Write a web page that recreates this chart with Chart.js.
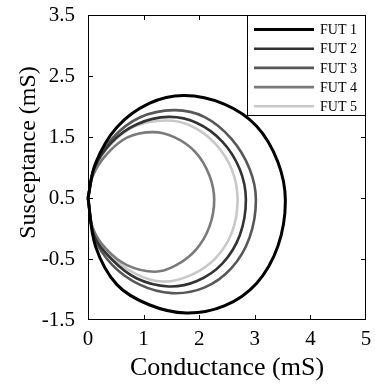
<!DOCTYPE html>
<html>
<head>
<meta charset="utf-8">
<script src="https://cdn.jsdelivr.net/npm/chart.js"></script>
<style>
  body { margin: 0; background: #fff; }
</style>
</head>
<body>
<canvas id="admittance" width="375" height="384"></canvas>
<script>
// conductance (mS), susceptance (mS), going round each loop
var fut1 = [[0, 0.5], [0.135, 1.07], [0.52, 1.66], [1.10, 2.05], [1.73, 2.18], [2.45, 2.04], [3.03, 1.68],
  [3.415, 1.09], [3.55, 0.45], [3.415, -0.29], [3.03, -0.90], [2.45, -1.27], [1.77, -1.385],
  [1.10, -1.25], [0.52, -0.92], [0.135, -0.29], [0, 0.5]];

var fut2 = [[0, 0.5], [0.11, 0.98], [0.42, 1.41], [0.88, 1.71], [1.45, 1.83], [1.96, 1.73], [2.42, 1.42],
  [2.73, 0.97], [2.84, 0.47], [2.73, -0.11], [2.42, -0.57], [1.96, -0.86], [1.45, -0.95],
  [0.88, -0.82], [0.42, -0.50], [0.11, -0.12], [0, 0.5]];

var fut3 = [[0, 0.5], [0.115, 1.00], [0.44, 1.48], [0.93, 1.82], [1.55, 1.94], [2.09, 1.83], [2.58, 1.47],
  [2.905, 0.98], [3.02, 0.47], [2.905, -0.15], [2.58, -0.65], [2.09, -0.97], [1.51, -1.06],
  [0.93, -0.92], [0.44, -0.60], [0.115, -0.15], [0, 0.5]];

var fut4 = [[0, 0.5], [0.086, 0.86], [0.33, 1.21], [0.70, 1.49], [1.17, 1.58], [1.57, 1.49], [1.94, 1.245],
  [2.184, 0.87], [2.27, 0.47], [2.184, 0.03], [1.94, -0.35], [1.57, -0.61], [1.20, -0.71],
  [0.70, -0.60], [0.33, -0.34], [0.086, 0.01], [0, 0.5]];

var fut5 = [[0, 0.5], [0.10, 0.96], [0.39, 1.36], [0.83, 1.67], [1.40, 1.77], [1.86, 1.68], [2.30, 1.38],
  [2.59, 0.96], [2.69, 0.47], [2.59, -0.06], [2.30, -0.48], [1.86, -0.76], [1.345, -0.87],
  [0.83, -0.73], [0.39, -0.42], [0.10, -0.05], [0, 0.5]];

var labels = ['FUT 1', 'FUT 2', 'FUT 3', 'FUT 4', 'FUT 5'];
var series = [fut1, fut2, fut3, fut4, fut5];
var colors = ['#000000', '#333333', '#575757', '#7a7a7a', '#c8c8c8'];
var widths = [3, 2.6, 2.6, 2.6, 2.6];

var serif = "'Liberation Serif', 'Times New Roman', serif";

function toPoints(arr) {
  return arr.map(function(p) { return {x: p[0], y: p[1]}; });
}

// box round the plot, inward ticks on all four sides, legend in the corner
var framePlugin = {
  id: 'frame',
  afterDatasetsDraw: function(chart) {
    var ctx = chart.ctx, a = chart.chartArea;
    var xs = chart.scales.x, ys = chart.scales.y;
    ctx.save();
    ctx.strokeStyle = '#000';
    ctx.lineWidth = 1;
    ctx.strokeRect(a.left + 0.5, a.top + 0.5, a.right - a.left - 1, a.bottom - a.top - 1);
    ctx.beginPath();
    xs.ticks.forEach(function(t) {
      if (t.value <= xs.min || t.value >= xs.max) return;
      var px = Math.round(xs.getPixelForValue(t.value)) + 0.5;
      ctx.moveTo(px, a.bottom); ctx.lineTo(px, a.bottom - 5);
      ctx.moveTo(px, a.top); ctx.lineTo(px, a.top + 5);
    });
    ys.ticks.forEach(function(t) {
      if (t.value <= ys.min || t.value >= ys.max) return;
      var py = Math.round(ys.getPixelForValue(t.value)) + 0.5;
      ctx.moveTo(a.left, py); ctx.lineTo(a.left + 5, py);
      ctx.moveTo(a.right, py); ctx.lineTo(a.right - 5, py);
    });
    ctx.stroke();

    // legend
    var bx = 247, by = a.top, bw = a.right - bx, bh = 101;
    ctx.fillStyle = '#fff';
    ctx.fillRect(bx, by, bw, bh);
    ctx.strokeRect(bx + 0.5, by + 0.5, bw - 1, bh - 1);
    ctx.font = '14px ' + serif;
    ctx.textBaseline = 'middle';
    chart.data.datasets.forEach(function(ds, i) {
      var y = by + 14.5 + i * 19.2;
      ctx.strokeStyle = ds.borderColor;
      ctx.lineWidth = ds.borderWidth;
      ctx.beginPath();
      ctx.moveTo(bx + 7, y); ctx.lineTo(bx + 67, y);
      ctx.stroke();
      ctx.fillStyle = '#000';
      ctx.fillText(ds.label, bx + 73, y + 1);
    });
    ctx.restore();
  }
};

window.onload = function() {
  new Chart(document.getElementById('admittance'), {
    type: 'line',
    data: {
      datasets: series.map(function(s, i) {
        return {
          label: labels[i],
          data: toPoints(s),
          tension: 0.35,
          fill: false,
          pointRadius: 0,
          borderColor: colors[i],
          backgroundColor: colors[i],
          borderWidth: widths[i],
          clip: 4
        };
      })
    },
    options: {
      responsive: false,
      animation: false,
      elements: { line: { tension: 0.35, capBezierPoints: false } },
      layout: { padding: { left: 0, right: 9, top: 15, bottom: 0 } },
      plugins: {
        legend: { display: false },
        tooltip: { enabled: false }
      },
      scales: {
        x: {
          type: 'linear',
          min: 0,
          max: 5,
          ticks: { stepSize: 1, color: '#000', padding: 1, font: { family: serif, size: 21 } },
          // invisible tick marks just push the labels off the box
          grid: { display: true, drawOnChartArea: false, drawTicks: true, tickLength: 6, color: 'rgba(0,0,0,0)' },
          border: { display: false },
          title: {
            display: true,
            text: 'Conductance (mS)',
            color: '#000',
            font: { family: serif, size: 26 },
            padding: { top: 0, bottom: 0 }
          },
          afterFit: function(s) { s.height = 64; }
        },
        y: {
          type: 'linear',
          min: -1.5,
          max: 3.5,
          ticks: { stepSize: 1, color: '#000', padding: 2, font: { family: serif, size: 21 } },
          grid: { display: true, drawOnChartArea: false, drawTicks: true, tickLength: 11, color: 'rgba(0,0,0,0)' },
          border: { display: false },
          title: {
            display: true,
            text: '     Susceptance (mS)',
            color: '#000',
            font: { family: serif, size: 24 },
            padding: { top: 14, bottom: 0 }
          },
          afterFit: function(s) { s.width = 88; }
        }
      }
    },
    plugins: [framePlugin]
  });
};
</script>
</body>
</html>
